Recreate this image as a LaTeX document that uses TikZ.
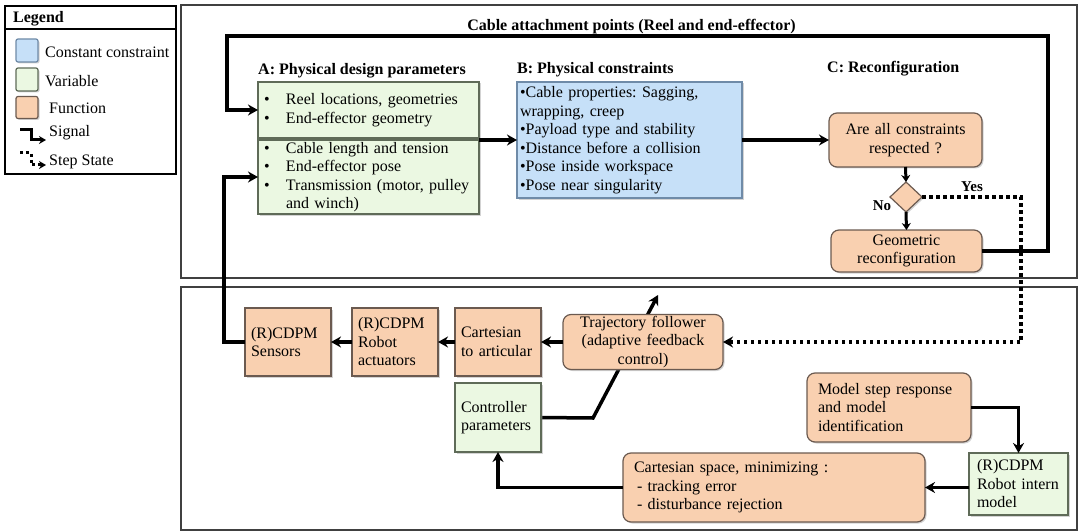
\documentclass[tikz,border=0pt]{standalone}
\usepackage{fontspec}
\setmainfont{Liberation Serif}
\usetikzlibrary{positioning,shapes.geometric,arrows.meta,shadows,backgrounds}
\definecolor{cstfill}{HTML}{C6E0F8}
\definecolor{varfill}{HTML}{EBF8E2}
\definecolor{funfill}{HTML}{F9D0B0}
\definecolor{cstline}{HTML}{6F8BA8}
\definecolor{varline}{HTML}{5F6B58}
\definecolor{funline}{HTML}{6B5A50}
\newcommand\blt{\makebox[22pt][l]{\textbullet}}

\begin{document}
\begin{tikzpicture}[x=1pt,y=-1pt,
  font=\fontsize{16}{18.5}\selectfont,
  box/.style={line width=1.2pt,outer sep=0pt,inner xsep=8pt,inner ysep=2pt,
    execute at begin node={\frenchspacing\hyphenpenalty=10000},
    drop shadow={shadow xshift=1.5pt,shadow yshift=-1.5pt,opacity=.35}},
  cst/.style={box,fill=cstfill,draw=cstline},
  var/.style={box,fill=varfill,draw=varline},
  fun/.style={box,fill=funfill,draw=funline},
  rfun/.style={fun,rounded corners=8pt},
  sig/.style={line width=3.5pt,-{Stealth[length=10pt,width=11pt]}},
  short/.style={line width=3pt,-{Stealth[length=7pt,width=9pt]}},
  dots/.style={sig,dash pattern=on 3.5pt off 3.5pt},
  hdr/.style={font=\fontsize{16}{18.5}\selectfont\bfseries,anchor=west,inner sep=0pt},
  lbl/.style={anchor=west,inner sep=0pt}]
  \useasboundingbox (0,0) rectangle (1079,532);
  \draw[line width=1.3pt,black!75] (181,5) rectangle (1077,278);
  \draw[line width=1.3pt,black!75] (181,287) rectangle (1077,530);
  \draw[line width=1.3pt] (5,6) rectangle (176,174);
  \draw[line width=1.3pt] (5,29) -- (176,29);
  \node[hdr] at (13,19) {Legend};
  \node[cst,minimum width=22pt,minimum height=23pt,inner sep=0pt,rounded corners=2pt] (lgc) at (27,50.5) {};
  \node[var,minimum width=22pt,minimum height=23pt,inner sep=0pt,rounded corners=2pt] (lgv) at (27,79.5) {};
  \node[fun,minimum width=22pt,minimum height=22pt,inner sep=0pt,rounded corners=2pt] (lgf) at (27,107.5) {};
  \node[lbl] at (45,52) {Constant constraint};
  \node[lbl] at (45,81) {Variable};
  \node[lbl] at (49,108) {Function};
  \node[lbl] at (49,133) {Signal};
  \node[lbl] at (49,162) {Step State};
  \draw[line width=3pt,-{Stealth[length=7pt,width=8pt]}] (20,130) -- (31,130) -- (31,140) -- (46,140);
  \draw[line width=3pt,dash pattern=on 3pt off 3pt,-{Stealth[length=7pt,width=8pt]}] (20,153) -- (31,153) -- (31,165) -- (46,165);

  \node[hdr,anchor=center] at (631.5,27) {Cable attachment points (Reel and end-effector)};
  \node[hdr] at (258,71) {A: Physical design parameters};
  \node[hdr] at (517,70) {B: Physical constraints};
  \node[hdr] at (827,69) {C: Reconfiguration};

  \node[var,inner xsep=6pt,text width=209pt,minimum height=56pt,align=left] (aup) at (368.5,110)
    {\blt Reel locations, geometries\\\blt End-effector geometry};
  \node[var,inner xsep=6pt,text width=209pt,minimum height=74pt,align=left,below=2pt of aup] (alo)
    {\blt Cable length and tension\\\blt End-effector pose\\\blt Transmission (motor, pulley\\\hspace*{22pt}and winch)};
  \node[cst,inner xsep=3pt,text width=219pt,minimum height=116pt,align=left] (cons) at (629.5,140)
    {\textbullet Cable properties: Sagging,\\wrapping, creep\\\textbullet Payload type and stability\\\textbullet Distance before a collision\\\textbullet Pose inside workspace\\\textbullet Pose near singularity};
  \node[rfun,text width=137pt,minimum height=54pt,align=center] (resp) at (905.5,140) {Are all constraints\\respected ?};
  \node[fun,diamond,minimum width=32pt,minimum height=30pt,inner sep=0pt] (ok) at (906,197) {};
  \node[rfun,text width=135pt,minimum height=42pt,inner ysep=1pt,align=center] (reconf) at (906.5,251) {Geometric\\reconfiguration};
  \node[hdr,anchor=center,font=\fontsize{15}{17}\selectfont\bfseries] at (972,187) {Yes};
  \node[hdr,anchor=center,font=\fontsize{15}{17}\selectfont\bfseries] at (882,206) {No};

  \node[fun,inner xsep=6pt,text width=74pt,minimum height=68pt,align=left] (sens) at (288,342) {(R)CDPM\\Sensors};
  \node[fun,inner xsep=6pt,text width=74pt,minimum height=68pt,align=left,right=21pt of sens] (act) {(R)CDPM\\Robot\\actuators};
  \node[fun,inner xsep=6pt,text width=74pt,minimum height=68pt,align=left,right=17pt of act] (c2a) {Cartesian\\to articular};
  \node[rfun,text width=144pt,minimum height=55pt,inner ysep=0pt,align=center,right=22pt of c2a] (traj)
    {Trajectory follower\\(adaptive feedback\\control)};
  \node[var,inner xsep=6pt,text width=74pt,minimum height=69pt,align=left,below=7pt of c2a] (ctrl) {Controller\\parameters};
  \node[rfun,inner xsep=11pt,text width=142pt,minimum height=69pt,align=left] (model) at (889,407.5)
    {Model step response\\and model\\identification};
  \node[var,text width=83pt,minimum height=62pt,align=left] (intern) at (1018.5,484) {(R)CDPM\\Robot intern\\model};
  \node[rfun,inner xsep=11pt,text width=280pt,minimum height=69pt,align=left] (cart) at (774,487.5)
    {Cartesian space, minimizing :\\\hspace*{3pt}- tracking error\\\hspace*{3pt}- disturbance rejection};

  \coordinate (topR) at (1048,36);
  \coordinate (topL) at (227,36);
  \coordinate (dotR) at (1021,342);
  \coordinate (bend) at (593,418);
  \coordinate (tip) at (658,295);

  \draw[sig] (reconf.east) -| (topR) -- (topL) |- (aup.west);
  \draw[sig] (alo.north east) -- (cons.west);
  \draw[sig] (cons.east) -- (resp.west);
  \draw[short] (resp.south) -- (ok.north);
  \draw[short] (ok.south) -- (reconf.north);
  \draw[dots] (ok.east) -| (dotR) -- (traj.east);
  \draw[sig] (traj.west) -- (c2a.east);
  \draw[sig] (c2a.west) -- (act.east);
  \draw[sig] (act.west) -- (sens.east);
  \draw[sig] (sens.west) -- ++(-21,0) |- (alo.west);
  \draw[sig] (model.east) -| (intern.north);
  \draw[sig] (cart.east -| intern.west) -- (cart.east);
  \draw[sig] (cart.west) -| (ctrl.south);
  \begin{scope}[on background layer]
    \draw[sig] (ctrl.east) -- (bend) -- (tip);
  \end{scope}
\end{tikzpicture}
\end{document}
